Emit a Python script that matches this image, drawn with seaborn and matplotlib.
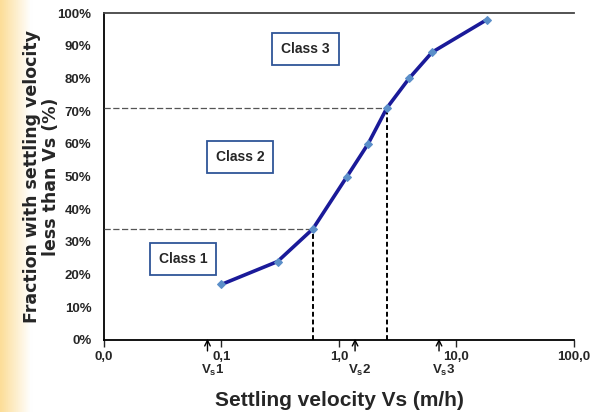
import numpy as np
import matplotlib
matplotlib.use("Agg")
import matplotlib.pyplot as plt
import pandas as pd
import seaborn as sns

# data
velocity = [0.1, 0.30, 0.60, 1.17, 1.77, 2.56, 3.95, 6.2, 18.2]
fraction = [17, 24, 34, 50, 60, 71, 80, 88, 98]

x_ticks = [0.01, 0.1, 1.0, 10.0, 100.0]
x_tick_labels = ["0,0", "0,1", "1,0", "10,0", "100,0"]
y_ticks = [0, 10, 20, 30, 40, 50, 60, 70, 80, 90, 100]
y_tick_labels = [f"{v}%" for v in y_ticks]

# class limits (cut points on the curve)
cut_v = [0.60, 2.56]
cut_f = [34, 71]

# arrows under the axis
arrow_v = [0.076, 1.37, 7.1]
arrow_lbl = ["V$_s$1", "V$_s$2", "V$_s$3"]

classes = ["Class 1", "Class 2", "Class 3"]
class_x = [0.047, 0.144, 0.52]
class_y = [24.8, 56, 89]

sns.set_style("white")
plt.rcParams["font.family"] = ["Liberation Sans", "DejaVu Sans"]
plt.rcParams["mathtext.fontset"] = "custom"
plt.rcParams["mathtext.rm"] = "Liberation Sans:bold"
plt.rcParams["mathtext.it"] = "Liberation Sans:bold"

fig = plt.figure(figsize=(5.95, 4.12), dpi=100)

# slide background strip on the left
bg = fig.add_axes([0, 0, 1, 1], zorder=-5)
grad = np.linspace(0, 1, 300)
cols = np.ones((1, 300, 3))
left = np.array([0.99, 0.87, 0.60])
w = np.clip(grad * 595 / 30, 0, 1)[None, :, None]
cols = left * (1 - w) + cols * w
bg.imshow(cols, aspect="auto", extent=[0, 1, 0, 1])
bg.axis("off")

ax = fig.add_axes([104 / 595, 72 / 412, 470 / 595, 327 / 412])
ax.patch.set_alpha(0)

df = pd.DataFrame({"v": velocity, "f": fraction})
sns.lineplot(data=df, x="v", y="f", ax=ax, color="#1a1a99", linewidth=2.6,
             marker="D", markersize=4, markerfacecolor="#5b8fc9",
             markeredgecolor="#5b8fc9", zorder=5)

ax.set_xscale("log")
ax.set_xlim(0.01, 100)
ax.set_ylim(0, 100)

# dashed guide lines
for v, f in zip(cut_v, cut_f):
    ax.plot([0.01, v], [f, f], color="#555555", lw=0.9, ls=(0, (5, 2)), zorder=3)
    ax.plot([v, v], [0, f], color="black", lw=1.4, ls=(0, (2.5, 1.5)), zorder=3)

for name, cx, cy in zip(classes, class_x, class_y):
    ax.text(cx, cy, name, ha="center", va="center", fontsize=10,
            fontweight="bold",
            bbox=dict(boxstyle="square,pad=0.65", fc="white", ec="#2f5597", lw=1.3))

for v, lbl in zip(arrow_v, arrow_lbl):
    ax.annotate("", xy=(v, 1.2), xytext=(v, -4.2),
                arrowprops=dict(arrowstyle="->", color="black", lw=1.0),
                annotation_clip=False)
    ax.text(v * 1.1, -9.2, lbl, ha="center", va="center", fontsize=9.5,
            fontweight="bold")

ax.set_xticks(x_ticks)
ax.set_xticklabels(x_tick_labels)
ax.xaxis.set_minor_locator(matplotlib.ticker.NullLocator())
ax.set_yticks(y_ticks)
ax.set_yticklabels(y_tick_labels)
ax.tick_params(axis="x", direction="out", length=5, width=1, pad=3,
               labelsize=9.5, bottom=True)
ax.tick_params(axis="y", length=0, labelsize=9.5, pad=9)
for lab in ax.get_xticklabels() + ax.get_yticklabels():
    lab.set_fontweight("bold")

ax.spines["right"].set_visible(False)
ax.spines["top"].set_color("#444444")
ax.spines["left"].set_color("black")
ax.spines["bottom"].set_color("black")
for s in ["top", "left", "bottom"]:
    ax.spines[s].set_linewidth(1.3)

ax.set_xlabel("Settling velocity Vs (m/h)", fontsize=15, fontweight="bold",
              labelpad=20)
ax.set_ylabel("Fraction with settling velocity\nless than Vs (%)", fontsize=12.5,
              fontweight="bold", linespacing=1.05, family="DejaVu Sans")
ax.yaxis.set_label_coords(-0.094, 0.5)

fig.savefig("out.png", dpi=100)
